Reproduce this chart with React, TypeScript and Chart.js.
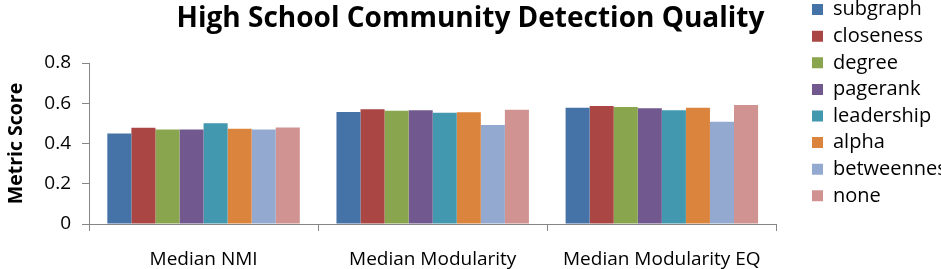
import React, { useEffect, useRef } from "react";
import { Chart, registerables } from "chart.js";

Chart.register(...registerables);

const titleText = "High School Community Detection Quality";
const yAxisTitle = "Metric Score";
const categories = ["Median NMI", "Median Modularity", "Median Modularity EQ"];
const seriesNames = ["subgraph", "closeness", "degree", "pagerank", "leadership", "alpha", "betweenness", "none"];
const subgraph = [0.45, 0.557, 0.578];
const closeness = [0.478, 0.57, 0.586];
const degree = [0.47, 0.563, 0.581];
const pagerank = [0.47, 0.565, 0.575];
const leadership = [0.501, 0.553, 0.565];
const alpha = [0.473, 0.555, 0.578];
const betweenness = [0.47, 0.492, 0.508];
const none = [0.48, 0.568, 0.591];
const yTicks = [0, 0.2, 0.4, 0.6, 0.8];
const seriesColors = ["#4572A7", "#AA4643", "#89A54E", "#71588F", "#4198AF", "#DB843D", "#93A9CF", "#D19392"];

const seriesValues = [subgraph, closeness, degree, pagerank, leadership, alpha, betweenness, none];

const FONT = '"Open Sans", "DejaVu Sans", sans-serif';
const AXIS_COLOR = "#868686";

const titlePlugin = {
  id: "centeredTitle",
  afterDraw(chart: any) {
    const ctx = chart.ctx;
    ctx.save();
    ctx.font = `bold 28px ${FONT}`;
    ctx.fillStyle = "#000";
    ctx.textAlign = "center";
    ctx.textBaseline = "alphabetic";
    ctx.fillText(titleText, chart.width / 2, 33.5);
    ctx.restore();
  },
};

export default function App() {
  const ref = useRef<HTMLCanvasElement | null>(null);

  useEffect(() => {
    if (!ref.current) return;
    const chart = new Chart(ref.current, {
      type: "bar",
      data: {
        labels: categories,
        datasets: seriesNames.map((name, i) => ({
          label: name,
          data: seriesValues[i],
          backgroundColor: seriesColors[i],
          borderWidth: 0,
          categoryPercentage: 0.84,
          barPercentage: 1.0,
        })),
      },
      options: {
        animation: false,
        responsive: false,
        devicePixelRatio: 1,
        layout: { padding: 0 },
        font: { family: FONT },
        color: "#000",
        plugins: {
          title: { display: false },
          tooltip: { enabled: false },
          legend: {
            display: true,
            position: "right",
            align: "start",
            maxWidth: 135.6,
            labels: {
              boxWidth: 11,
              boxHeight: 11,
              padding: 6.6,
              color: "#000",
              font: { family: FONT, size: 20 },
            },
          },
        },
        scales: {
          x: {
            type: "category",
            offset: true,
            grid: {
              display: true,
              offset: true,
              drawOnChartArea: false,
              drawTicks: true,
              tickLength: 7,
              color: AXIS_COLOR,
            },
            border: { display: true, color: AXIS_COLOR },
            ticks: {
              color: "#000",
              padding: 17,
              maxRotation: 0,
              font: { family: FONT, size: 19 },
            },
            afterFit: (s: any) => {
              s.height = 45;
            },
          },
          y: {
            type: "linear",
            position: "left",
            min: yTicks[0],
            max: yTicks[yTicks.length - 1],
            grid: {
              display: true,
              drawOnChartArea: false,
              drawTicks: true,
              tickLength: 7,
              color: AXIS_COLOR,
            },
            border: { display: true, color: AXIS_COLOR },
            ticks: {
              stepSize: yTicks[1] - yTicks[0],
              color: "#000",
              padding: 11,
              font: { family: FONT, size: 19 },
            },
            title: {
              display: true,
              text: yAxisTitle,
              color: "#000",
              padding: { top: 5, bottom: 0 },
              font: { family: FONT, size: 19.5, weight: "bold" },
            },
            afterFit: (s: any) => {
              s.width = 89;
              s.paddingTop = 70;
            },
          },
          spacer: {
            type: "linear",
            position: "right",
            display: true,
            grid: { display: false },
            border: { display: false },
            ticks: { display: false },
            afterFit: (s: any) => {
              s.width = 29;
            },
          },
        },
      },
      plugins: [titlePlugin],
    } as any);
    return () => chart.destroy();
  }, []);

  return (
    <div
      style={{
        position: "absolute",
        left: 0,
        top: 0,
        width: 941,
        height: 269,
        overflow: "hidden",
        background: "#fff",
      }}
    >
      <canvas
        ref={ref}
        width={941}
        height={276}
        style={{ position: "absolute", left: 0, top: -7, width: 941, height: 276, display: "block" }}
      />
    </div>
  );
}
